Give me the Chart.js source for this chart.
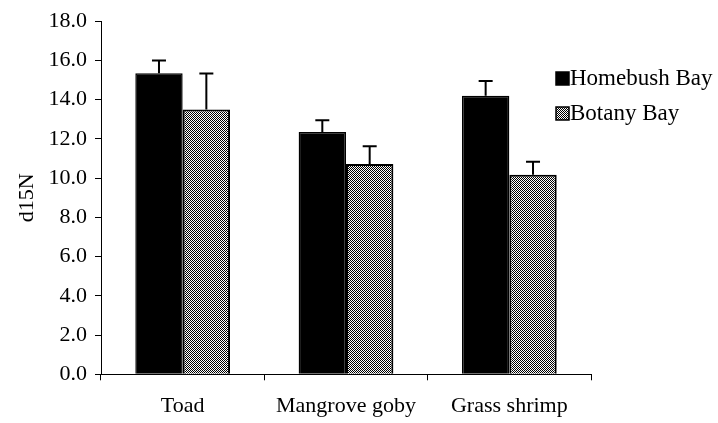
<!DOCTYPE html>
<html>
<head>
<meta charset="utf-8">
<script src="https://cdn.jsdelivr.net/npm/chart.js@4"></script>
<style>
  html, body { margin: 0; padding: 0; background: #fff; }
  #wrap { width: 718px; height: 423px; }
</style>
</head>
<body>
<div id="wrap"><canvas id="myChart" width="718" height="423"></canvas></div>
<script>
// data
var categories = ['Toad', 'Mangrove goby', 'Grass shrimp'];
var seriesNames = ['Homebush Bay', 'Botany Bay'];
var homebush = [15.35, 12.35, 14.2];
var homebushErr = [0.65, 0.6, 0.75];
var botany = [13.5, 10.72, 10.17];
var botanyErr = [1.83, 0.9, 0.67];
var yTicks = [0, 2, 4, 6, 8, 10, 12, 14, 16, 18];

var FONT = '"Liberation Serif", "Times New Roman", serif';

// dotted fill like the old excel pattern
function makePattern() {
    var c = document.createElement('canvas');
    c.width = 2; c.height = 2;
    var g = c.getContext('2d');
    g.fillStyle = '#fff';
    g.fillRect(0, 0, 2, 2);
    g.fillStyle = '#000';
    g.fillRect(0, 0, 1, 1);
    g.fillRect(1, 1, 1, 1);
    return g.createPattern(c, 'repeat');
}
var dots = makePattern();

// only the upper whisker is visible in the original
var errorBars = {
    id: 'errorBars',
    afterDatasetsDraw: function(chart) {
        var ctx = chart.ctx;
        var y = chart.scales.y;
        var errs = [homebushErr, botanyErr];
        ctx.save();
        ctx.strokeStyle = '#000';
        ctx.lineWidth = 2;
        chart.data.datasets.forEach(function(ds, di) {
            var meta = chart.getDatasetMeta(di);
            meta.data.forEach(function(bar, i) {
                var top = y.getPixelForValue(ds.data[i] + errs[di][i]);
                var base = y.getPixelForValue(ds.data[i]);
                ctx.beginPath();
                ctx.moveTo(bar.x, base);
                ctx.lineTo(bar.x, top);
                ctx.moveTo(bar.x - 7, top);
                ctx.lineTo(bar.x + 7, top);
                ctx.stroke();
            });
        });
        ctx.restore();
    }
};

var sideLegend = {
    id: 'sideLegend',
    afterDraw: function(chart) {
        var ctx = chart.ctx;
        var fills = ['#000', dots];
        var rowsY = [78, 113];
        ctx.save();
        ctx.font = '23px ' + FONT;
        ctx.textBaseline = 'middle';
        for (var i = 0; i < seriesNames.length; i++) {
            ctx.fillStyle = fills[i];
            ctx.fillRect(556, rowsY[i] - 6, 13, 13);
            ctx.strokeStyle = '#000';
            ctx.lineWidth = 1.5;
            ctx.strokeRect(556, rowsY[i] - 6, 13, 13);
            ctx.fillStyle = '#000';
            ctx.fillText(seriesNames[i], 570, rowsY[i] + 1);
        }
        ctx.restore();
    }
};

var ctx = document.getElementById('myChart');
var myChart = new Chart(ctx, {
    type: 'bar',
    data: {
        labels: categories,
        datasets: [{
            label: seriesNames[0],
            data: homebush,
            backgroundColor: '#000',
            borderColor: '#000',
            borderWidth: 1.5,
            barPercentage: 1,
            categoryPercentage: 0.58
        }, {
            label: seriesNames[1],
            data: botany,
            backgroundColor: dots,
            borderColor: '#000',
            borderWidth: 2,
            barPercentage: 1,
            categoryPercentage: 0.58
        }]
    },
    options: {
        responsive: false,
        animation: false,
        devicePixelRatio: 1,
        layout: { padding: { top: 20, right: 127, bottom: 0, left: 0 } },
        plugins: {
            legend: { display: false },
            tooltip: { enabled: false }
        },
        scales: {
            x: {
                grid: {
                    offset: true,
                    drawOnChartArea: false,
                    drawTicks: true,
                    tickLength: 6,
                    color: '#000'
                },
                border: { display: true, color: '#000', width: 1 },
                ticks: {
                    color: '#000',
                    font: { family: FONT, size: 22 },
                    padding: 13,
                    maxRotation: 0
                },
                afterFit: function(s) { s.height = 48.7; }
            },
            y: {
                min: 0,
                max: 18,
                afterBuildTicks: function(s) {
                    s.ticks = yTicks.map(function(v) { return { value: v }; });
                },
                grid: {
                    drawOnChartArea: false,
                    drawTicks: true,
                    tickLength: 6,
                    color: '#000'
                },
                border: { display: true, color: '#000', width: 1 },
                ticks: {
                    color: '#000',
                    font: { family: FONT, size: 22 },
                    padding: 8,
                    callback: function(v) { return Number(v).toFixed(1); }
                },
                title: {
                    display: true,
                    text: 'd15N',
                    color: '#000',
                    font: { family: FONT, size: 22 },
                    padding: { top: 14, bottom: 0 }
                },
                afterFit: function(s) { s.width = 101; }
            }
        }
    },
    plugins: [errorBars, sideLegend]
});
</script>
</body>
</html>
